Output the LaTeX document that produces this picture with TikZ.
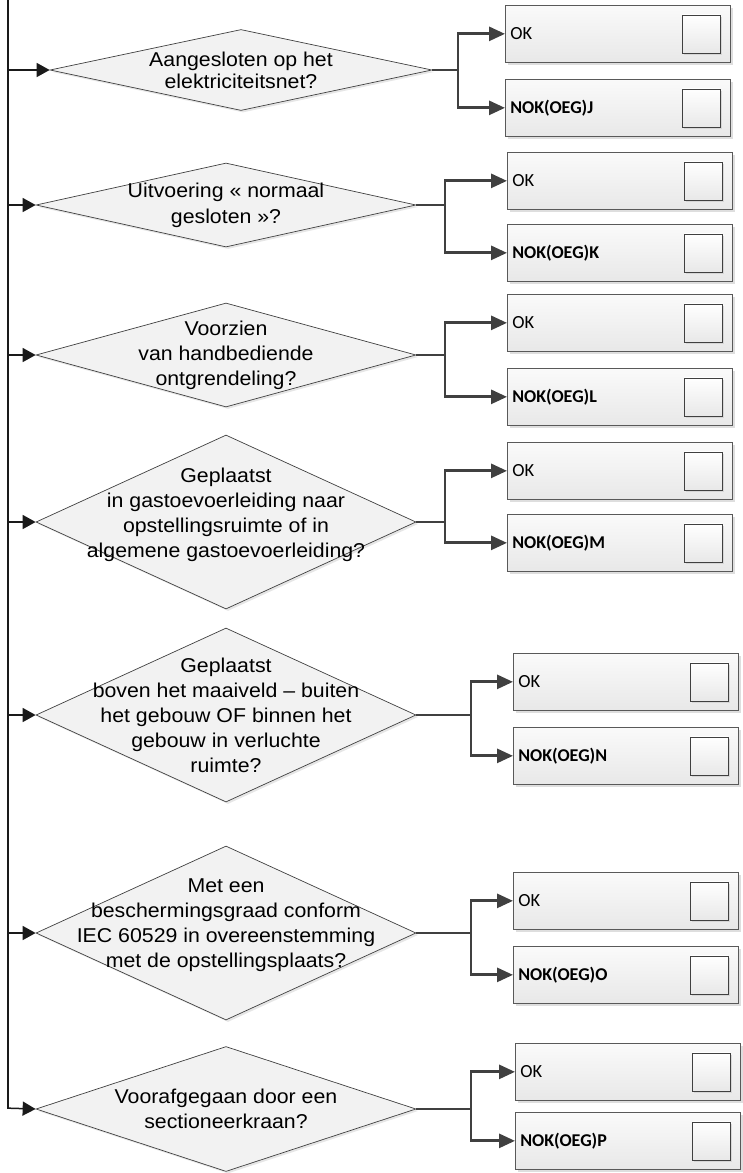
\documentclass[tikz,border=0pt]{standalone}
\usepackage{fontspec}
\setmainfont{Liberation Sans}[FakeStretch=1.065]
\newfontfamily\boxfont{Carlito}
\usetikzlibrary{shapes.geometric,shadows,arrows.meta}

\definecolor{diafill}{HTML}{F2F2F2}
\definecolor{diadraw}{HTML}{404040}
\definecolor{boxtop}{HTML}{FAFAFA}
\definecolor{boxbot}{HTML}{E8E8E8}
\definecolor{boxdraw}{HTML}{595959}
\definecolor{shade}{HTML}{C8C8C8}
\definecolor{wire}{HTML}{404040}
\definecolor{trunkcol}{HTML}{1A1A1A}

\tikzset{
  decision/.style={diamond, draw=diadraw, line width=0.7pt, fill=diafill,
    inner sep=0pt,
    drop shadow={shadow xshift=2pt, shadow yshift=-2pt, fill=shade, opacity=0.45}},
  question/.style={font=\fontsize{20}{25}\selectfont, align=center, text=black,
    inner sep=0pt},
  answer/.style={rectangle, draw=boxdraw, line width=0.7pt,
    top color=boxtop, bottom color=boxbot, anchor=north west,
    minimum width=225pt, minimum height=57pt, text width=215pt,
    inner xsep=5pt, inner ysep=0pt, align=left,
    font=\boxfont\fontsize{18.5}{21}\selectfont,
    drop shadow={shadow xshift=3pt, shadow yshift=-3pt, fill=shade, opacity=0.6}},
  nokbox/.style={answer, font=\boxfont\bfseries\fontsize{18}{21}\selectfont},
  tick/.style={rectangle, draw=diadraw, line width=0.7pt,
    top color=white, bottom color=boxbot,
    minimum width=38pt, minimum height=38pt, inner sep=0pt, anchor=east,
    drop shadow={shadow xshift=2pt, shadow yshift=-2pt, fill=shade, opacity=0.6}},
  feed/.style={draw=trunkcol, line width=1.5pt,
    -{Triangle[length=13pt, width=14pt]}},
  trunk/.style={draw=trunkcol, line width=1.7pt},
  branch/.style={draw=wire, line width=2.8pt,
    -{Triangle[length=16pt, width=14pt]}},
}

\begin{document}
\begin{tikzpicture}[x=1pt, y=-1pt]
\useasboundingbox (0,0) rectangle (742,1173);

% ---------- questions ----------
\node[decision, minimum width=382pt, minimum height=81pt]  (d1) at (241,70)  {};
\node[decision, minimum width=380pt, minimum height=84pt]  (d2) at (226,205) {};
\node[decision, minimum width=380pt, minimum height=104pt] (d3) at (226,355) {};
\node[decision, minimum width=380pt, minimum height=174pt] (d4) at (226,522) {};
\node[decision, minimum width=380pt, minimum height=174pt] (d5) at (226,715) {};
\node[decision, minimum width=380pt, minimum height=174pt] (d6) at (226,933) {};
\node[decision, minimum width=380pt, minimum height=125pt] (d7) at (226,1109) {};

\node[question, font=\fontsize{20}{22}\selectfont] (q1) at (d1.center)
  {Aangesloten op het\\elektriciteitsnet?};
\node[question, font=\fontsize{20}{26}\selectfont] (q2) at (d2.center)
  {Uitvoering « normaal\\gesloten »?};
\node[question] (q3) at (d3.center) {Voorzien\\van handbediende\\ontgrendeling?};
\node[question, yshift=7pt] (q4) at (d4.center)
  {Geplaatst\\in gastoevoerleiding naar\\opstellingsruimte of in\\algemene gastoevoerleiding?};
\node[question] (q5) at (d5.center)
  {Geplaatst\\boven het maaiveld -- buiten\\het gebouw OF binnen het\\gebouw in verluchte\\ruimte?};
\node[question, yshift=8pt] (q6) at (d6.center)
  {Met een\\beschermingsgraad conform\\IEC 60529 in overeenstemming\\met de opstellingsplaats?};
\node[question] (q7) at (d7.center) {Voorafgegaan door een\\sectioneerkraan?};

% ---------- answers ----------
\node[answer]  (ok1)  at (505,5)    {OK};
\node[nokbox]  (nok1) at (505,79)   {NOK(OEG)J};
\node[answer]  (ok2)  at (507,152)  {OK};
\node[nokbox]  (nok2) at (507,224)  {NOK(OEG)K};
\node[answer]  (ok3)  at (507,294)  {OK};
\node[nokbox]  (nok3) at (507,368)  {NOK(OEG)L};
\node[answer]  (ok4)  at (507,442)  {OK};
\node[nokbox]  (nok4) at (507,514)  {NOK(OEG)M};
\node[answer]  (ok5)  at (513,653)  {OK};
\node[nokbox]  (nok5) at (513,727)  {NOK(OEG)N};
\node[answer]  (ok6)  at (513,872)  {OK};
\node[nokbox]  (nok6) at (513,946)  {NOK(OEG)O};
\node[answer]  (ok7)  at (515,1043) {OK};
\node[nokbox]  (nok7) at (515,1112) {NOK(OEG)P};

% check boxes
\foreach \b in {ok1,nok1,ok2,nok2,ok3,nok3,ok4,nok4,ok5,nok5,ok6,nok6,ok7,nok7}
  \node[tick] (c-\b) at ([xshift=-10pt]\b.east) {};

% ---------- trunk and feeds ----------
\coordinate (top) at (8,0);
\draw[trunk] (top) -- (top |- d7.west);
\draw[feed] (top |- d1.west) -- (d1.west);
\draw[feed] (top |- d2.west) -- (d2.west);
\draw[feed] (top |- d3.west) -- (d3.west);
\draw[feed] (top |- d4.west) -- (d4.west);
\draw[feed] (top |- d5.west) -- (d5.west);
\draw[feed] (top |- d6.west) -- (d6.west);
\draw[feed] ([yshift=0.85pt]top |- d7.west) -- (d7.west);

% ---------- branches ----------
\coordinate (j1) at (458,70);
\coordinate (j2) at (445,205);
\coordinate (j3) at (445,355);
\coordinate (j4) at (445,522);
\coordinate (j5) at (471,715);
\coordinate (j6) at (471,933);
\coordinate (j7) at (471,1109);
\foreach \i in {1,...,7}{
  \draw[branch] (d\i.east) -- (j\i) |- (ok\i.west);
  \draw[branch] (j\i) |- (nok\i.west);
}
\end{tikzpicture}
\end{document}
